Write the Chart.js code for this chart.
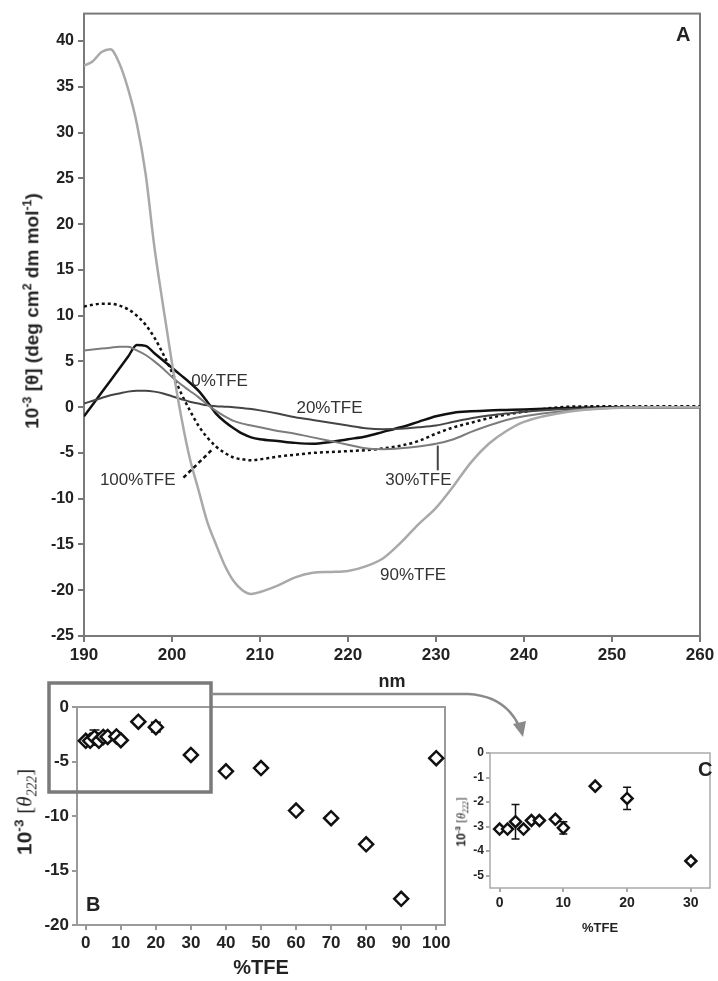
<!DOCTYPE html>
<html>
<head>
<meta charset="utf-8">
<script src="https://cdn.jsdelivr.net/npm/chart.js@4.4.1/dist/chart.umd.min.js"></script>
<style>
  html,body{margin:0;padding:0;background:#fff;}
  #wrap{position:relative;width:718px;height:981px;overflow:hidden;font-family:"Liberation Sans",Arial,sans-serif;color:#222;}
  canvas{position:absolute;}
  .ytitle{position:absolute;white-space:nowrap;transform:translate(-50%,-50%) rotate(-90deg);}
  .ytitle sup,.ytitle sub{font-size:65%;}
  .serif{font-family:"Liberation Serif","DejaVu Serif",serif;font-weight:normal;}
  .panel{position:absolute;font-weight:bold;font-size:20px;}
  svg{position:absolute;left:0;top:0;}
</style>
</head>
<body>
<div id="wrap">
  <canvas id="cA" width="718" height="700" style="left:0;top:0"></canvas>
  <canvas id="cB" width="460" height="291" style="left:0;top:690px"></canvas>
  <canvas id="cC" width="278" height="205" style="left:440px;top:740px"></canvas>

  <div class="ytitle" style="left:32px;top:311px;font-weight:bold;font-size:19px">10<sup>-3</sup> [θ] (deg cm<sup>2</sup> dm mol<sup>-1</sup>)</div>
  <div class="ytitle" style="left:26px;top:812px;font-size:21px"><b>10<sup>-3</sup></b> <span class="serif">[<i>θ</i><sub><i>222</i></sub>]</span></div>
  <div class="ytitle" style="left:462px;top:822px;font-size:12px"><b>10<sup>-3</sup></b> <span class="serif">[<i>θ</i><sub><i>222</i></sub>]</span></div>

  <div class="panel" style="left:676px;top:23px">A</div>
  <div class="panel" style="left:86px;top:893px">B</div>
  <div class="panel" style="left:698px;top:758px">C</div>

  <svg width="718" height="981">
    <rect x="49" y="683" width="162" height="109" fill="none" stroke="#7a7a7a" stroke-width="3.5"/>
    <path d="M211 694 L468 694 Q505 696 519 726" fill="none" stroke="#8a8a8a" stroke-width="2.5"/>
    <path d="M513 724 L523 737 L526 721 Z" fill="#8a8a8a"/>
  </svg>
</div>

<script>
/* ══ PANEL A: CD spectra ══ */
const nm=[190,191,192,193,194,195,196,197,198,199,200,201,202,203,204,205,206,207,208,209,210,212,214,216,218,220,222,224,226,228,230,232,234,236,238,240,245,250,255,260];
const tfe0  =[-1.0,0.3,1.6,2.9,4.2,5.5,6.8,6.7,5.9,5.1,4.3,3.5,2.7,1.8,0.6,-0.7,-1.6,-2.3,-2.9,-3.3,-3.5,-3.7,-3.9,-4.0,-3.8,-3.5,-3.2,-2.7,-2.2,-1.6,-1.0,-0.6,-0.45,-0.35,-0.3,-0.25,-0.1,0,0,0];
const tfe20 =[0.4,0.7,1.0,1.3,1.5,1.7,1.8,1.8,1.7,1.5,1.2,0.9,0.6,0.4,0.2,0.1,0.05,0,-0.1,-0.2,-0.35,-0.7,-1.1,-1.4,-1.7,-2.0,-2.3,-2.4,-2.35,-2.2,-2.0,-1.6,-1.2,-0.9,-0.7,-0.5,-0.2,-0.05,0,0];
const tfe30 =[6.2,6.3,6.4,6.5,6.6,6.6,6.2,5.7,5.0,4.2,3.3,2.5,1.8,1.1,0.3,-0.4,-1.0,-1.5,-1.8,-2.0,-2.2,-2.6,-2.9,-3.3,-3.7,-4.1,-4.5,-4.6,-4.5,-4.3,-4.0,-3.5,-2.7,-2.0,-1.4,-1.0,-0.4,-0.1,0,0];
const tfe90 =[37.3,37.8,38.8,39.1,37.6,34.8,31.0,25.5,17.5,11.0,4.8,-0.8,-5.5,-9.0,-12.5,-15.0,-17.3,-19.0,-20.0,-20.4,-20.2,-19.5,-18.6,-18.1,-18.0,-17.9,-17.4,-16.5,-14.8,-12.8,-11.0,-8.6,-6.0,-4.0,-2.6,-1.6,-0.5,-0.1,0,0];
const tfe100=[11.0,11.2,11.3,11.3,11.1,10.7,10.0,9.0,7.6,5.8,3.8,1.6,-0.3,-2.0,-3.3,-4.3,-5.0,-5.5,-5.7,-5.8,-5.7,-5.4,-5.2,-5.0,-4.9,-4.8,-4.7,-4.5,-4.2,-3.7,-2.9,-2.2,-1.7,-1.2,-0.8,-0.5,0.05,0.1,0.1,0.1];
const nmTicks=[190,200,210,220,230,240,250,260];
const cdTicks=[-25,-20,-15,-10,-5,0,5,10,15,20,25,30,35,40];

/* ══ PANELS B and C: theta222 vs %TFE ══ */
const tfe=[0,1.25,2.5,3.75,5,6.25,8.75,10,15,20,30,40,50,60,70,80,90,100];
const theta222=[-3.1,-3.1,-2.8,-3.1,-2.75,-2.75,-2.7,-3.05,-1.35,-1.85,-4.4,-5.9,-5.6,-9.5,-10.2,-12.6,-17.6,-4.7];
const theta222Err=[0.1,0.1,0.7,0.1,0.1,0.1,0.1,0.25,0.1,0.45,0.1,0,0,0,0,0,0,0];
const tfeTicksB=[0,10,20,30,40,50,60,70,80,90,100];
const thetaTicksB=[-20,-15,-10,-5,0];
const tfeTicksC=[0,10,20,30];
const thetaTicksC=[-5,-4,-3,-2,-1,0];

const FONT='"Liberation Sans", Arial, sans-serif';
const xy=(xs,ys)=>xs.map((x,i)=>({x,y:ys[i]}));
const fixTicks=arr=>s=>{s.ticks=arr.map(v=>({value:v}));};

// frame round the chart area
const framePlugin={id:'frame',beforeDatasetsDraw(c,a,o){
  const {left,top,right,bottom}=c.chartArea,ctx=c.ctx;
  ctx.save();ctx.strokeStyle=o.color;ctx.lineWidth=o.width;
  ctx.strokeRect(left,top,right-left,bottom-top);ctx.restore();
}};

// error bars for the scatter panels
const errPlugin={id:'errbars',beforeDatasetsDraw(c,a,o){
  if(!o.err)return;
  const xs=c.scales.x,ys=c.scales.y,ctx=c.ctx,d=c.data.datasets[0].data;
  ctx.save();ctx.strokeStyle='#111';ctx.lineWidth=1.5;
  d.forEach((p,i)=>{
    const e=o.err[i];if(!e||e<0.2)return;
    const px=xs.getPixelForValue(p.x),y1=ys.getPixelForValue(p.y+e),y2=ys.getPixelForValue(p.y-e);
    ctx.beginPath();ctx.moveTo(px,y1);ctx.lineTo(px,y2);
    ctx.moveTo(px-o.cap,y1);ctx.lineTo(px+o.cap,y1);
    ctx.moveTo(px-o.cap,y2);ctx.lineTo(px+o.cap,y2);ctx.stroke();
  });
  ctx.restore();
}};

// curve labels and pointers in panel A
const curveLabels=[['0%TFE',205.4,2.8],['20%TFE',217.9,-0.1],['30%TFE',228.0,-8.0],['90%TFE',227.4,-18.4],['100%TFE',196.1,-8.0]];
const labelPlugin={id:'curvelabels',afterDatasetsDraw(c){
  const xs=c.scales.x,ys=c.scales.y,ctx=c.ctx;
  ctx.save();
  ctx.font='17px '+FONT;ctx.fillStyle='#333';ctx.textAlign='center';ctx.textBaseline='middle';
  curveLabels.forEach(([t,x,y])=>ctx.fillText(t,xs.getPixelForValue(x),ys.getPixelForValue(y)));
  ctx.strokeStyle='#444';ctx.lineWidth=2;
  ctx.beginPath();ctx.moveTo(xs.getPixelForValue(230.2),ys.getPixelForValue(-4.2));ctx.lineTo(xs.getPixelForValue(230.2),ys.getPixelForValue(-6.9));ctx.stroke();
  ctx.strokeStyle='#111';ctx.lineWidth=2.5;ctx.setLineDash([4,3]);
  ctx.beginPath();ctx.moveTo(xs.getPixelForValue(201.3),ys.getPixelForValue(-7.7));ctx.lineTo(xs.getPixelForValue(204.6),ys.getPixelForValue(-4.6));ctx.stroke();
  ctx.restore();
}};

function axis(opts){
  return Object.assign({
    type:'linear',
    border:{display:false},
    grid:{drawOnChartArea:false,color:opts.gridColor||'#777',tickLength:opts.tl||6,lineWidth:2},
    ticks:{color:'#222',font:{family:FONT,size:opts.fs,weight:'bold'},padding:opts.pad||3,maxRotation:0,autoSkip:false}
  },opts.extra);
}

const line=(d,color,w,dash)=>({data:xy(nm,d),borderColor:color,borderWidth:w,borderDash:dash||[],pointRadius:0,fill:false,cubicInterpolationMode:'monotone'});

new Chart(document.getElementById('cA'),{
  type:'line',
  data:{datasets:[
    line(tfe90,'#a9a9a9',2.5),
    line(tfe30,'#7c7c7c',2),
    line(tfe20,'#454545',2),
    line(tfe100,'#111',2.5,[3,3]),
    line(tfe0,'#111',2.5)
  ]},
  plugins:[framePlugin,labelPlugin],
  options:{
    responsive:false,animation:false,devicePixelRatio:1,
    layout:{padding:{left:0,right:18,top:10,bottom:0}},
    plugins:{legend:{display:false},tooltip:{enabled:false},frame:{color:'#7a7a7a',width:2}},
    scales:{
      x:axis({fs:17,extra:{min:190,max:260,afterBuildTicks:fixTicks(nmTicks),afterFit:s=>{s.height=64;},
        title:{display:true,text:'nm',color:'#222',font:{family:FONT,size:18,weight:'bold'},padding:{top:0,bottom:7}}}}),
      y:axis({fs:16,pad:4,extra:{min:-25,max:43,afterBuildTicks:fixTicks(cdTicks),afterFit:s=>{s.width=84;}}})
    }
  }
});

new Chart(document.getElementById('cB'),{
  type:'scatter',
  data:{datasets:[{data:xy(tfe,theta222),pointStyle:'rectRot',pointRadius:7,borderWidth:2.5,borderColor:'#111',backgroundColor:'#fff'}]},
  plugins:[framePlugin,errPlugin],
  options:{
    responsive:false,animation:false,devicePixelRatio:1,
    layout:{padding:{left:0,right:15,top:17,bottom:0}},
    plugins:{legend:{display:false},tooltip:{enabled:false},frame:{color:'#9a9a9a',width:2},errbars:{err:theta222Err,cap:5}},
    scales:{
      x:axis({fs:17,gridColor:'#999',tl:5,extra:{min:-2.5,max:102.5,afterBuildTicks:fixTicks(tfeTicksB),afterFit:s=>{s.height=56;},
        title:{display:true,text:'%TFE',color:'#222',font:{family:FONT,size:20,weight:'bold'},padding:{top:0,bottom:1}}}}),
      y:axis({fs:17,gridColor:'#999',tl:5,extra:{min:-20,max:0,afterBuildTicks:fixTicks(thetaTicksB),afterFit:s=>{s.width=77;}}})
    }
  }
});

const cN=tfe.filter(v=>v<=30).length;
new Chart(document.getElementById('cC'),{
  type:'scatter',
  data:{datasets:[{data:xy(tfe.slice(0,cN),theta222.slice(0,cN)),pointStyle:'rectRot',pointRadius:5.5,borderWidth:2.5,borderColor:'#111',backgroundColor:'#fff'}]},
  plugins:[framePlugin,errPlugin],
  options:{
    responsive:false,animation:false,devicePixelRatio:1,
    layout:{padding:{left:0,right:1,top:13,bottom:0}},
    plugins:{legend:{display:false},tooltip:{enabled:false},frame:{color:'#aaa',width:1.5},errbars:{err:theta222Err.slice(0,cN),cap:4}},
    scales:{
      x:axis({fs:14,gridColor:'#aaa',tl:4,extra:{min:-1.5,max:33,afterBuildTicks:fixTicks(tfeTicksC),afterFit:s=>{s.height=57;},
        title:{display:true,text:'%TFE',color:'#222',font:{family:FONT,size:13,weight:'bold'},padding:{top:0,bottom:9}}}}),
      y:axis({fs:12,gridColor:'#aaa',tl:4,pad:2,extra:{min:-5.5,max:0,afterBuildTicks:fixTicks(thetaTicksC),afterFit:s=>{s.width=50;}}})
    }
  }
});
</script>
</body>
</html>
